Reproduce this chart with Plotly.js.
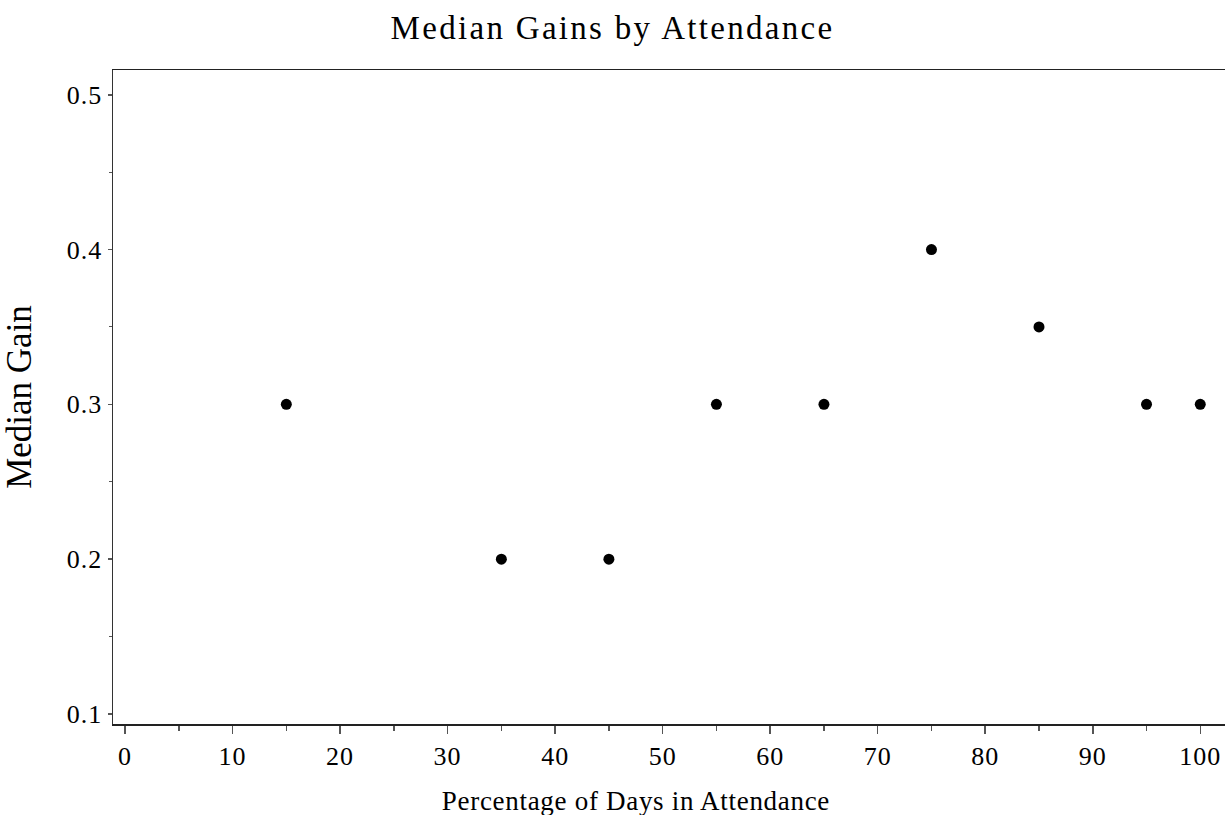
<!DOCTYPE html>
<html>
<head>
<meta charset="utf-8">
<script src="https://cdn.plot.ly/plotly-3.0.1.min.js"></script>
<style>
html,body{margin:0;padding:0;background:#fff;}
#chart{width:1225px;height:815px;}
#chart .gtitle{letter-spacing:2.3px;}
#chart .annotation-text{letter-spacing:0.7px;}
#chart .xtick text,#chart .ytick text{letter-spacing:1px;}
</style>
</head>
<body>
<div id="chart"></div>
<script>
const attendance = [15, 35, 45, 55, 65, 75, 85, 95, 100];
const medianGain = [0.3, 0.2, 0.2, 0.3, 0.3, 0.4, 0.35, 0.3, 0.3];
const xTicks = [0, 10, 20, 30, 40, 50, 60, 70, 80, 90, 100];
const yTicks = [0.1, 0.2, 0.3, 0.4, 0.5];
const xTitle = 'Percentage of Days in Attendance';

const font = 'Liberation Serif, Times New Roman, serif';
const trace = {
  x: attendance, y: medianGain, type: 'scatter', mode: 'markers',
  marker: {color: '#000', size: 11, symbol: 'circle'},
  hoverinfo: 'x+y'
};
const layout = {
  width: 1225, height: 815,
  margin: {l: 113, r: 0, t: 70, b: 91},
  paper_bgcolor: '#fff', plot_bgcolor: '#fff',
  showlegend: false,
  title: {text: 'Median Gains by Attendance', x: 0.5, xanchor: 'center', y: 0.966, yanchor: 'middle',
          font: {family: font, size: 33, color: '#000'}},
  xaxis: {
    range: [-1.12, 102.3], tickvals: xTicks, ticktext: xTicks.map(String),
    showgrid: false, zeroline: false, showline: true, linecolor: '#222', linewidth: 1.5,
    mirror: true, ticks: 'outside', ticklen: 8, tickwidth: 1.5, tickcolor: '#555',
    tickfont: {family: font, size: 26, color: '#000'},
    minor: {dtick: 5, tick0: 0, ticks: 'outside', ticklen: 5, tickwidth: 1.5, tickcolor: '#555', showgrid: false}
  },
  yaxis: {
    range: [0.0935, 0.516], tickvals: yTicks, ticktext: yTicks.map(v => v.toFixed(1)),
    showgrid: false, zeroline: false, showline: true, linecolor: '#333', linewidth: 1.5,
    mirror: false, ticks: 'outside', ticklen: 4, tickwidth: 1.5, tickcolor: '#555',
    tickfont: {family: font, size: 26, color: '#000'},
    minor: {dtick: 0.05, tick0: 0, ticks: 'outside', ticklen: 3, tickwidth: 1, tickcolor: '#555', showgrid: false},
    title: {text: 'Median Gain', font: {family: font, size: 35, color: '#000'}, standoff: 28}
  },
  annotations: [{
    text: xTitle, xref: 'paper', yref: 'paper', x: 0.4703, y: -0.117,
    xanchor: 'center', yanchor: 'middle', showarrow: false,
    font: {family: font, size: 27, color: '#000'}
  }]
};
Plotly.newPlot('chart', [trace], layout, {displayModeBar: false, staticPlot: true});
</script>
</body>
</html>
